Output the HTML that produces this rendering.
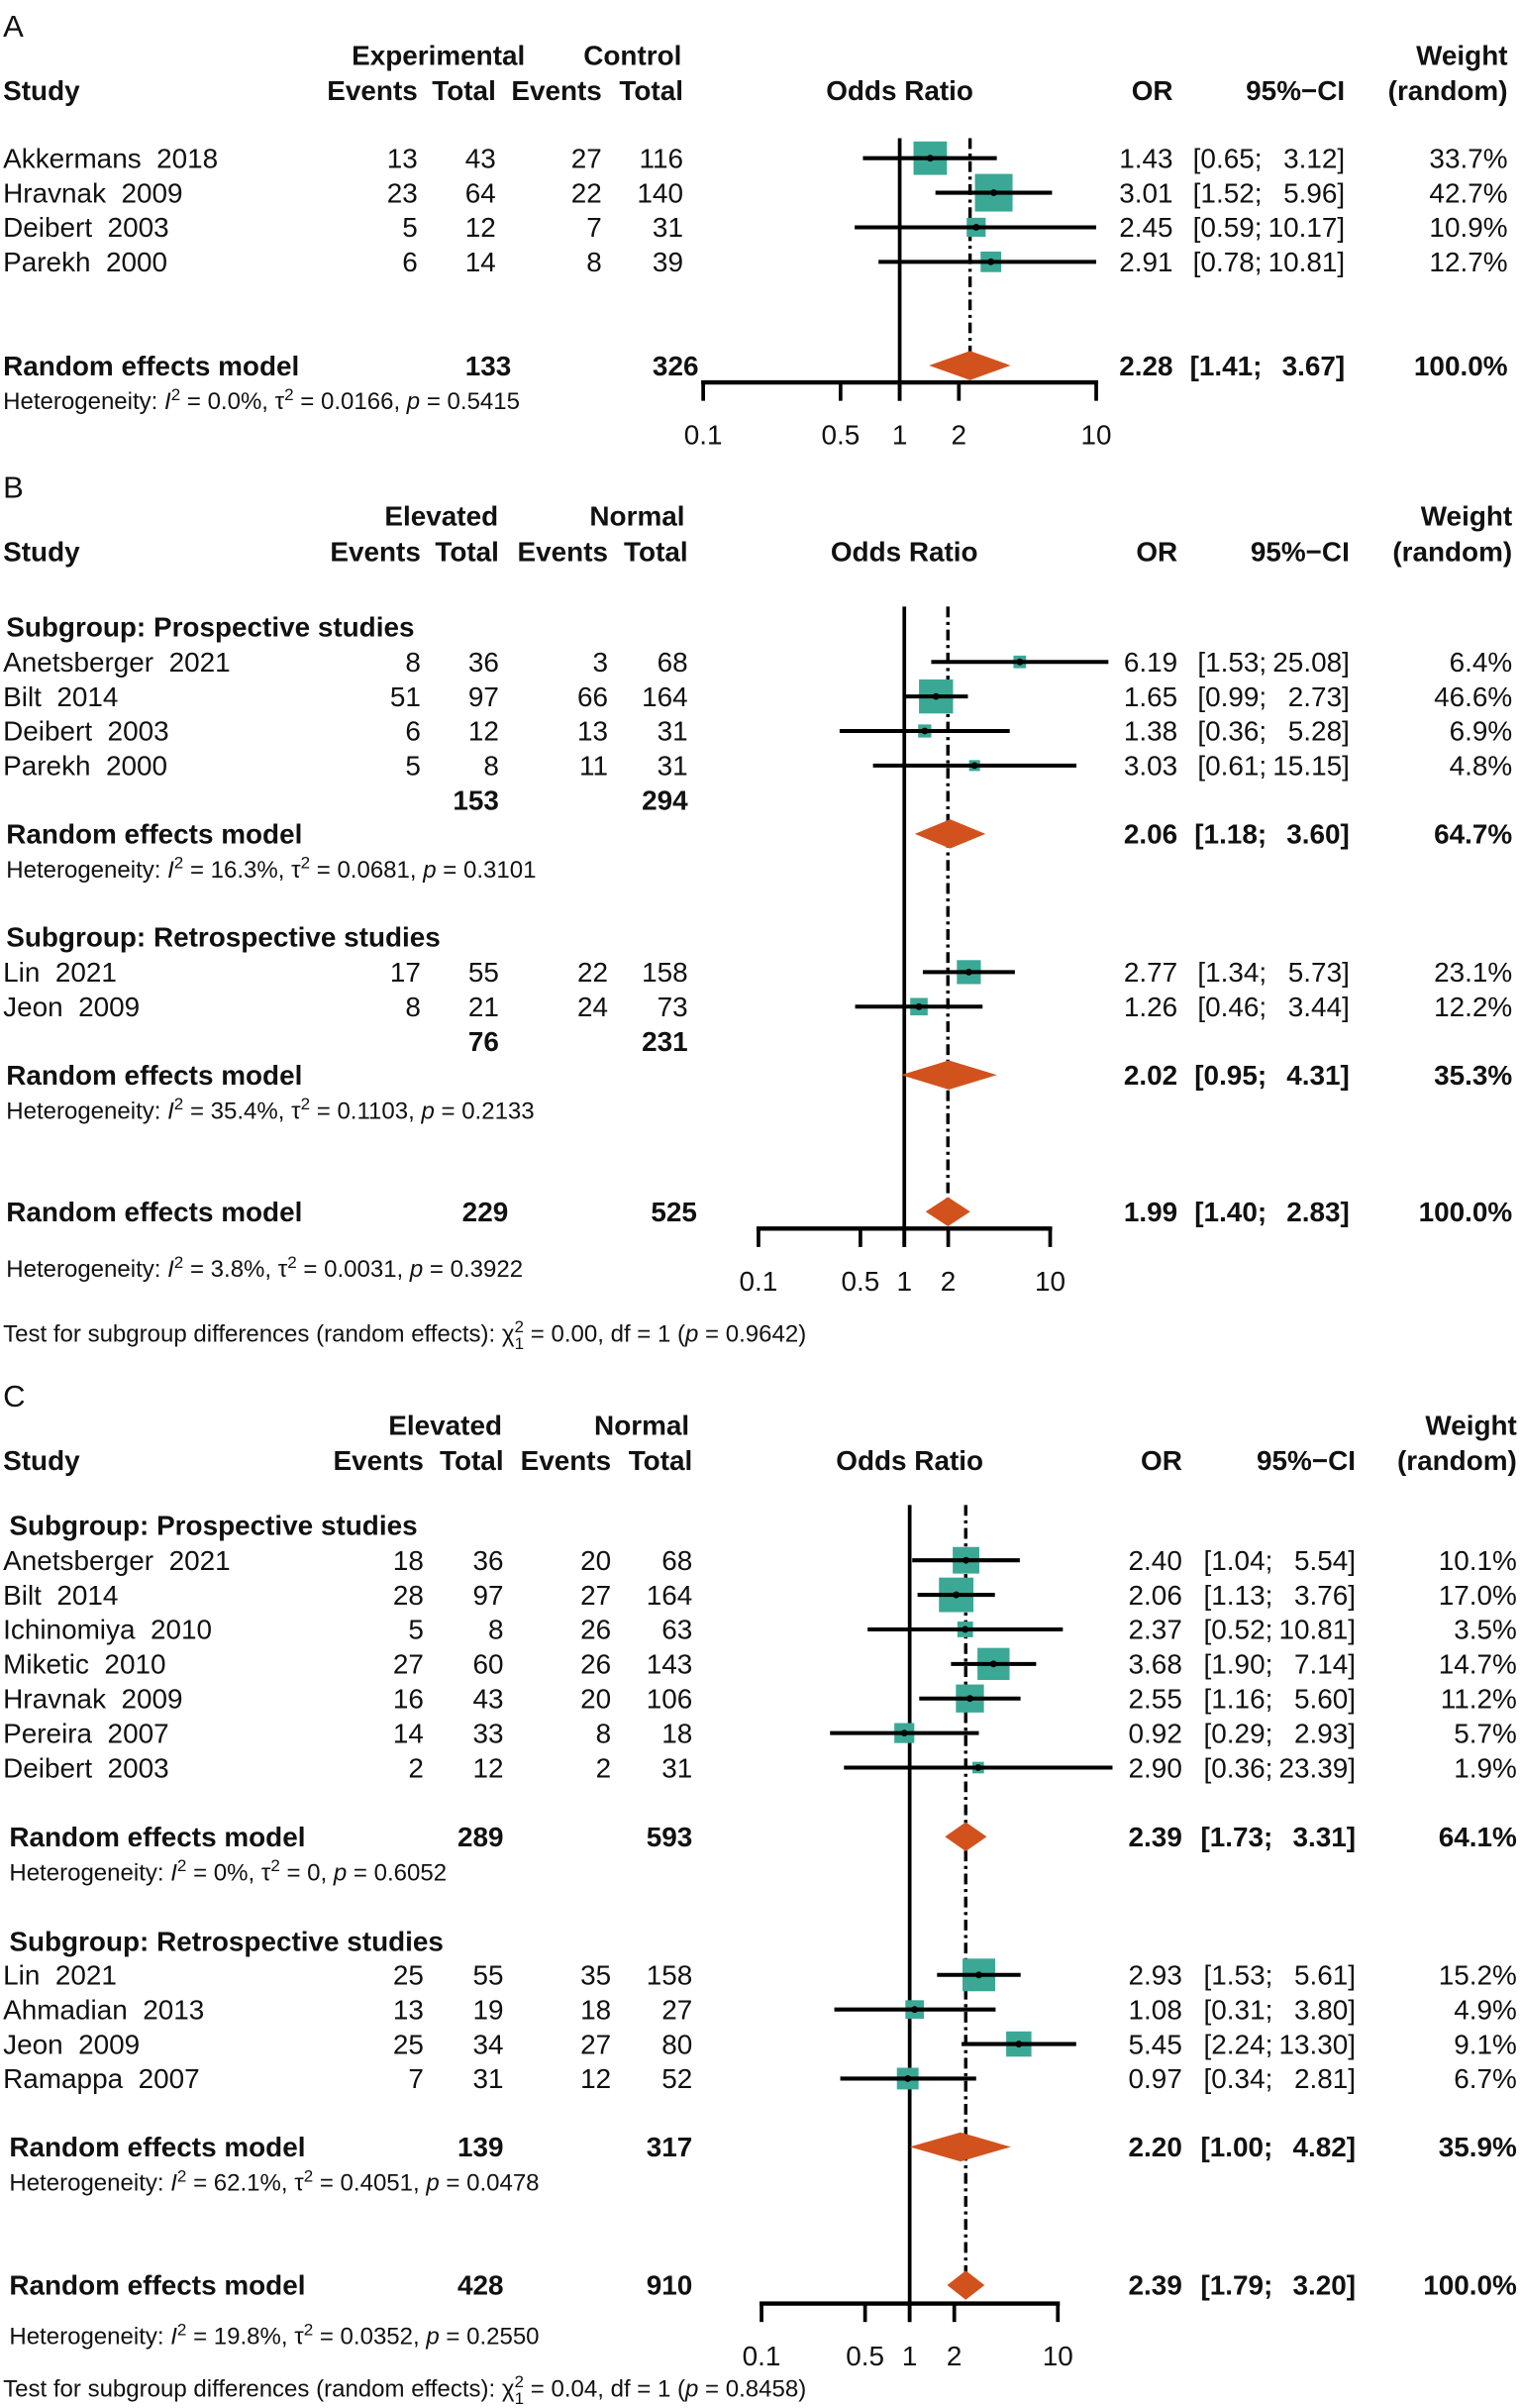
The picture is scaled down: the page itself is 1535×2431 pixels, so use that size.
<!DOCTYPE html>
<html><head><meta charset="utf-8"><style>
html,body{margin:0;padding:0;background:#fff;}
svg{display:block;}
text{font-family:"Liberation Sans",Arial,sans-serif;fill:#111;white-space:pre;}
</style></head><body>
<svg id="fig" width="1535" height="2431" viewBox="0 0 990 1568" xmlns="http://www.w3.org/2000/svg"></svg>
<script>
// ===== Panel A data =====
const studiesA = ["Akkermans  2018","Hravnak  2009","Deibert  2003","Parekh  2000"];
const ev1A = [13,23,5,6];
const tot1A = [43,64,12,14];
const ev2A = [27,22,7,8];
const tot2A = [116,140,31,39];
const orA = [1.43,3.01,2.45,2.91];
const loA = [0.65,1.52,0.59,0.78];
const hiA = [3.12,5.96,10.17,10.81];
const wA = [33.7,42.7,10.9,12.7];
const sumA = [2.28,1.41,3.67,100.0];
const sumTotA = [133,326];

// ===== Panel B data =====
const studiesB1 = ["Anetsberger  2021","Bilt  2014","Deibert  2003","Parekh  2000"];
const ev1B1 = [8,51,6,5];
const tot1B1 = [36,97,12,8];
const ev2B1 = [3,66,13,11];
const tot2B1 = [68,164,31,31];
const orB1 = [6.19,1.65,1.38,3.03];
const loB1 = [1.53,0.99,0.36,0.61];
const hiB1 = [25.08,2.73,5.28,15.15];
const wB1 = [6.4,46.6,6.9,4.8];
const sumB1 = [2.06,1.18,3.60,64.7];
const sumTotB1 = [153,294];
const studiesB2 = ["Lin  2021","Jeon  2009"];
const ev1B2 = [17,8];
const tot1B2 = [55,21];
const ev2B2 = [22,24];
const tot2B2 = [158,73];
const orB2 = [2.77,1.26];
const loB2 = [1.34,0.46];
const hiB2 = [5.73,3.44];
const wB2 = [23.1,12.2];
const sumB2 = [2.02,0.95,4.31,35.3];
const sumTotB2 = [76,231];
const sumB = [1.99,1.40,2.83,100.0];
const sumTotB = [229,525];

// ===== Panel C data =====
const studiesC1 = ["Anetsberger  2021","Bilt  2014","Ichinomiya  2010","Miketic  2010","Hravnak  2009","Pereira  2007","Deibert  2003"];
const ev1C1 = [18,28,5,27,16,14,2];
const tot1C1 = [36,97,8,60,43,33,12];
const ev2C1 = [20,27,26,26,20,8,2];
const tot2C1 = [68,164,63,143,106,18,31];
const orC1 = [2.40,2.06,2.37,3.68,2.55,0.92,2.90];
const loC1 = [1.04,1.13,0.52,1.90,1.16,0.29,0.36];
const hiC1 = [5.54,3.76,10.81,7.14,5.60,2.93,23.39];
const wC1 = [10.1,17.0,3.5,14.7,11.2,5.7,1.9];
const sumC1 = [2.39,1.73,3.31,64.1];
const sumTotC1 = [289,593];
const studiesC2 = ["Lin  2021","Ahmadian  2013","Jeon  2009","Ramappa  2007"];
const ev1C2 = [25,13,25,7];
const tot1C2 = [55,19,34,31];
const ev2C2 = [35,18,27,12];
const tot2C2 = [158,27,80,52];
const orC2 = [2.93,1.08,5.45,0.97];
const loC2 = [1.53,0.31,2.24,0.34];
const hiC2 = [5.61,3.80,13.30,2.81];
const wC2 = [15.2,4.9,9.1,6.7];
const sumC2 = [2.20,1.00,4.82,35.9];
const sumTotC2 = [139,317];
const sumC = [2.39,1.79,3.20,100.0];
const sumTotC = [428,910];

const tickVals = [0.1,0.5,1,2,10];
const tickLabels = ["0.1","0.5","1","2","10"];

const NS = "http://www.w3.org/2000/svg";
const svg = document.getElementById('fig');
const TEAL = "#3aa895", ORANGE = "#d2521d";

function mk(tag, attrs, parent){
  const e = document.createElementNS(NS, tag);
  for (const k in attrs) e.setAttribute(k, attrs[k]);
  (parent||svg).appendChild(e);
  return e;
}
function txt(x, y, s, anchor, bold, size, name){
  const t = mk('text', {x:x, y:y+6.3*(size||18)/18, 'text-anchor':anchor||'start', 'font-size':size||18, 'font-weight':bold?'bold':'normal'});
  t.textContent = s;
  
  
  return t;
}
function fmt(v){ return v.toFixed(2); }

function makeScale(x0, dec){ return v => x0 + (Math.log10(v)+1)*dec; }

function drawHeader(P, yTop, title, g1, g2){
  txt(2, yTop, title, 'start', false, 20, 'panel-label');
  const y1 = yTop+19, y2 = yTop+42;
  txt((P.c[0]+P.c[1])/2 - 12, y1, g1, 'middle', true, 18, 'group1-header');
  txt(P.c[3] - 33, y1, g2, 'middle', true, 18, 'group2-header');
  txt(P.right, y1, "Weight", 'end', true, 18, 'weight-header');
  txt(2, y2, "Study", 'start', true, 18, 'study-header');
  txt(P.c[0], y2, "Events", 'end', true, 18, 'events-header');
  txt(P.c[1], y2, "Total", 'end', true, 18, 'total-header');
  txt(P.c[2], y2, "Events", 'end', true, 18, 'events-header');
  txt(P.c[3], y2, "Total", 'end', true, 18, 'total-header');
  txt(P.x(1), y2, "Odds Ratio", 'middle', true, 18, 'odds-ratio-header');
  txt(P.orR, y2, "OR", 'end', true, 18, 'or-header');
  txt(P.ciR, y2, "95%\u2212CI", 'end', true, 18, 'ci-header');
  txt(P.right, y2, "(random)", 'end', true, 18, 'weight-random-header');
}

function drawStats(P, y, or, lo, hi, w, bold, name){
  txt(P.orR, y, fmt(or), 'end', bold, 18, name+'-or');
  txt(P.ciR-54, y, "["+fmt(lo)+";", 'end', bold, 18, name+'-ci-low');
  txt(P.ciR, y, fmt(hi)+"]", 'end', bold, 18, name+'-ci-high');
  txt(P.right, y, w.toFixed(1)+"%", 'end', bold, 18, name+'-weight');
}

function drawStudies(P, y0, names, e1, t1, e2, t2, or, lo, hi, w){
  for (let i=0;i<names.length;i++){
    const y = y0 + i*22.5;
    txt(2, y, names[i], 'start', false, 18, 'study-name');
    txt(P.c[0], y, String(e1[i]), 'end', false, 18, 'events-exp');
    txt(P.c[1], y, String(t1[i]), 'end', false, 18, 'total-exp');
    txt(P.c[2], y, String(e2[i]), 'end', false, 18, 'events-ctrl');
    txt(P.c[3], y, String(t2[i]), 'end', false, 18, 'total-ctrl');
    const s = P.k*Math.sqrt(w[i]);
    const box = mk('rect', {x:P.x(or[i])-s/2, y:y-s/2, width:s, height:s, fill:TEAL});
    
    
    const ln = mk('line', {x1:P.x(lo[i]), x2:Math.min(P.x(hi[i]), P.clip), y1:y, y2:y, stroke:'#000', 'stroke-width':2.6});
    
    
    const dot = mk('circle', {cx:P.x(or[i]), cy:y, r:2.2, fill:'#000'});
    
    
    drawStats(P, y, or[i], lo[i], hi[i], w[i], false, 'study');
  }
}

function diamond(P, y, s){
  const d = mk('polygon', {points:[P.x(s[1])+','+y, P.x(s[0])+','+(y-9.5), P.x(s[2])+','+y, P.x(s[0])+','+(y+9.5)].join(' '), fill:ORANGE});
  
  
}

function hetero(x, y, i2, tau, p, name){
  const t = mk('text', {x:x, y:y+5.5, 'font-size':15.5});
  
  
  t.innerHTML = 'Heterogeneity: <tspan font-style="italic">I</tspan><tspan dy="-6" font-size="11">2</tspan><tspan dy="6"> = '+i2+', \u03c4</tspan><tspan dy="-6" font-size="11">2</tspan><tspan dy="6"> = '+tau+', </tspan><tspan font-style="italic">p</tspan> = '+p;
}
function subtest(y, chi, p){
  const t = mk('text', {x:2, y:y+5.5, 'font-size':15.5});
  
  
  t.innerHTML = 'Test for subgroup differences (random effects): \u03c7<tspan dy="-6" font-size="11">2</tspan><tspan dx="-6" dy="11" font-size="11">1</tspan><tspan dy="-5"> = '+chi+', df = 1 (</tspan><tspan font-style="italic">p</tspan> = '+p+')';
}

function axis(P, yTop, yAxis, dashTop, dashBot, est){
  const v = mk('line', {x1:P.x(1), x2:P.x(1), y1:yTop, y2:yAxis+12, stroke:'#000', 'stroke-width':2.4});
  
  
  const d = mk('line', {x1:P.x(est), x2:P.x(est), y1:dashTop, y2:dashBot, stroke:'#000', 'stroke-width':2.2, 'stroke-dasharray':'7 3 2 3'});
  
  
  const a = mk('line', {x1:P.x(0.1)-1.3, x2:P.x(10)+1.3, y1:yAxis, y2:yAxis, stroke:'#000', 'stroke-width':2.8});
  
  
  for (let i=0;i<tickVals.length;i++){
    const tk = mk('line', {x1:P.x(tickVals[i]), x2:P.x(tickVals[i]), y1:yAxis, y2:yAxis+12, stroke:'#000', 'stroke-width':2.4});
    
    
    txt(P.x(tickVals[i]), yAxis+34, tickLabels[i], 'middle', false, 18, 'x-tick-label');
  }
}

function totals(P, y, tt, shift){
  txt(P.c[1]+shift, y, String(tt[0]), 'end', true, 18, 'total-exp-sum');
  txt(P.c[3]+shift, y, String(tt[1]), 'end', true, 18, 'total-ctrl-sum');
}

// ===== Panel A =====
const PA = {x:makeScale(458,128), c:[272,323,392,445], orR:764, ciR:876, right:982, k:3.75, clip:714};
drawHeader(PA, 17, "A", "Experimental", "Control");
axis(PA, 90, 249, 90, 230, sumA[0]);
drawStudies(PA, 103, studiesA, ev1A, tot1A, ev2A, tot2A, orA, loA, hiA, wA);
txt(2, 238, "Random effects model", 'start', true, 18, 'random-effects-label');
totals(PA, 238, sumTotA, 10);
diamond(PA, 238, sumA);
drawStats(PA, 238, sumA[0], sumA[1], sumA[2], sumA[3], true, 'summary');
hetero(2, 261, "0.0%", "0.0166", "0.5415", 'heterogeneity-a');

// ===== Panel B =====
const PB = {x:makeScale(494,95), c:[274,325,396,448], orR:767, ciR:879, right:985, k:3.25, clip:722};
drawHeader(PB, 317, "B", "Elevated", "Normal");
axis(PB, 395, 800, 395, 781, sumB[0]);
txt(4, 408, "Subgroup: Prospective studies", 'start', true, 18, 'subgroup-prospective');
drawStudies(PB, 431, studiesB1, ev1B1, tot1B1, ev2B1, tot2B1, orB1, loB1, hiB1, wB1);
totals(PB, 521, sumTotB1, 0);
txt(4, 543, "Random effects model", 'start', true, 18, 'random-effects-label');
diamond(PB, 543, sumB1);
drawStats(PB, 543, sumB1[0], sumB1[1], sumB1[2], sumB1[3], true, 'subgroup-summary');
hetero(4, 566, "16.3%", "0.0681", "0.3101", 'heterogeneity-b1');
txt(4, 610, "Subgroup: Retrospective studies", 'start', true, 18, 'subgroup-retrospective');
drawStudies(PB, 633, studiesB2, ev1B2, tot1B2, ev2B2, tot2B2, orB2, loB2, hiB2, wB2);
totals(PB, 678, sumTotB2, 0);
txt(4, 700, "Random effects model", 'start', true, 18, 'random-effects-label');
diamond(PB, 700, sumB2);
drawStats(PB, 700, sumB2[0], sumB2[1], sumB2[2], sumB2[3], true, 'subgroup-summary');
hetero(4, 723, "35.4%", "0.1103", "0.2133", 'heterogeneity-b2');
txt(4, 789, "Random effects model", 'start', true, 18, 'random-effects-label');
totals(PB, 789, sumTotB, 6);
diamond(PB, 789, sumB);
drawStats(PB, 789, sumB[0], sumB[1], sumB[2], sumB[3], true, 'overall-summary');
hetero(4, 826, "3.8%", "0.0031", "0.3922", 'heterogeneity-b');
subtest(868, "0.00", "0.9642");

// ===== Panel C =====
const PC = {x:makeScale(496,96.5), c:[276,328,398,451], orR:770, ciR:883, right:988, k:5.45, clip:727};
drawHeader(PC, 909, "C", "Elevated", "Normal");
axis(PC, 980, 1500, 980, 1480, sumC[0]);
txt(6, 993, "Subgroup: Prospective studies", 'start', true, 18, 'subgroup-prospective');
drawStudies(PC, 1016, studiesC1, ev1C1, tot1C1, ev2C1, tot2C1, orC1, loC1, hiC1, wC1);
txt(6, 1196, "Random effects model", 'start', true, 18, 'random-effects-label');
totals(PC, 1196, sumTotC1, 0);
diamond(PC, 1196, sumC1);
drawStats(PC, 1196, sumC1[0], sumC1[1], sumC1[2], sumC1[3], true, 'subgroup-summary');
hetero(6, 1219, "0%", "0", "0.6052", 'heterogeneity-c1');
txt(6, 1264, "Subgroup: Retrospective studies", 'start', true, 18, 'subgroup-retrospective');
drawStudies(PC, 1286, studiesC2, ev1C2, tot1C2, ev2C2, tot2C2, orC2, loC2, hiC2, wC2);
txt(6, 1398, "Random effects model", 'start', true, 18, 'random-effects-label');
totals(PC, 1398, sumTotC2, 0);
diamond(PC, 1398, sumC2);
drawStats(PC, 1398, sumC2[0], sumC2[1], sumC2[2], sumC2[3], true, 'subgroup-summary');
hetero(6, 1421, "62.1%", "0.4051", "0.0478", 'heterogeneity-c2');
txt(6, 1488, "Random effects model", 'start', true, 18, 'random-effects-label');
totals(PC, 1488, sumTotC, 0);
diamond(PC, 1488, sumC);
drawStats(PC, 1488, sumC[0], sumC[1], sumC[2], sumC[3], true, 'overall-summary');
hetero(6, 1521, "19.8%", "0.0352", "0.2550", 'heterogeneity-c');
subtest(1555, "0.04", "0.8458");
</script>
</body></html>
